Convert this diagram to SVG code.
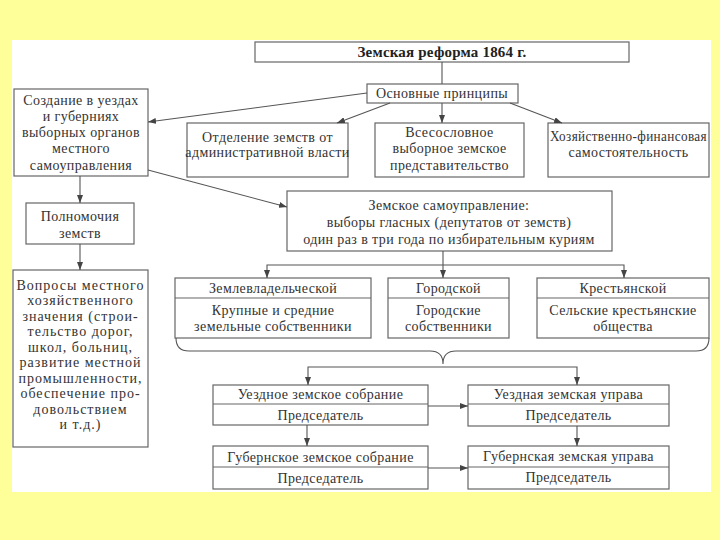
<svg xmlns="http://www.w3.org/2000/svg" width="720" height="540" viewBox="0 0 720 540">
<style>
.box{fill:#fff;stroke:#666;stroke-width:1.2}
.div{stroke:#666;stroke-width:1.2;fill:none}
.t{font-family:"Liberation Serif","DejaVu Serif",serif;font-size:14px;letter-spacing:0.4px;fill:#333;text-anchor:middle}
.b{font-weight:bold;font-size:15px;letter-spacing:0.2px;fill:#222}
.w{letter-spacing:1px}
.c{stroke:#555;stroke-width:1.1;fill:none}
.a{marker-end:url(#ar)}
</style>
<defs>
<marker id="ar" viewBox="0 0 8 6" refX="8" refY="3" markerWidth="8" markerHeight="6" markerUnits="userSpaceOnUse" orient="auto">
<path d="M0,0 L8,3 L0,6 z" fill="#444"/>
</marker>
</defs>
<rect x="0" y="0" width="720" height="540" fill="#FFFF99"/>
<rect x="12" y="40" width="699" height="452" fill="#fff"/>

<g id="title">
<rect class="box" x="255" y="42" width="374" height="20"/>
<text class="t b" x="442" y="57">Земская реформа 1864 г.</text>
</g>
<g id="principles">
<rect class="box" x="367" y="84" width="151" height="19"/>
<text class="t" x="442" y="98">Основные принципы</text>
</g>
<g id="creation">
<rect class="box" x="14" y="89" width="134" height="87"/>
<text class="t" x="81" y="105">Создание в уездах</text>
<text class="t" x="81" y="121">и губерниях</text>
<text class="t" x="81" y="137">выборных органов</text>
<text class="t" x="81" y="153">местного</text>
<text class="t" x="81" y="170">самоуправления</text>
</g>
<g id="separation">
<rect class="box" x="187" y="123" width="161" height="54"/>
<text class="t" x="267.5" y="142">Отделение земств от</text>
<text class="t" x="267.5" y="157">административной власти</text>
</g>
<g id="allestate">
<rect class="box" x="375" y="123" width="149" height="54"/>
<text class="t" x="449.5" y="136.5">Всесословное</text>
<text class="t" x="449.5" y="153">выборное земское</text>
<text class="t" x="449.5" y="169.5">представительство</text>
</g>
<g id="finance">
<rect class="box" x="548" y="123" width="161" height="54"/>
<text class="t" x="628.5" y="140.5" textLength="157" lengthAdjust="spacingAndGlyphs">Хозяйственно-финансовая</text>
<text class="t" x="628.5" y="157">самостоятельность</text>
</g>
<g id="powers">
<rect class="box" x="26" y="203" width="108" height="41"/>
<text class="t" x="80" y="220.5">Полномочия</text>
<text class="t" x="80" y="237.5">земств</text>
</g>
<g id="questions">
<rect class="box" x="13" y="270" width="135" height="177"/>
<text class="t w" x="80.5" y="289.5">Вопросы местного</text>
<text class="t w" x="80.5" y="305">хозяйственного</text>
<text class="t w" x="80.5" y="320.5">значения (строи-</text>
<text class="t w" x="80.5" y="336">тельство дорог,</text>
<text class="t w" x="80.5" y="351.5">школ, больниц,</text>
<text class="t w" x="80.5" y="367">развитие местной</text>
<text class="t w" x="80.5" y="382.5">промышленности,</text>
<text class="t w" x="80.5" y="398">обеспечение про-</text>
<text class="t w" x="80.5" y="413.5">довольствием</text>
<text class="t w" x="80.5" y="429">и т.д.)</text>
</g>
<g id="selfgov">
<rect class="box" x="287" y="191" width="325" height="60"/>
<text class="t" x="449" y="209.5">Земское самоуправление:</text>
<text class="t" x="449" y="226.5">выборы гласных (депутатов от земств)</text>
<text class="t" x="449" y="243.5">один раз в три года по избирательным куриям</text>
</g>
<g id="landowners">
<rect class="box" x="175" y="278" width="196" height="60"/>
<line class="div" x1="175" y1="298" x2="371" y2="298"/>
<text class="t" x="273" y="292.5">Землевладельческой</text>
<text class="t" x="273" y="314.5">Крупные и средние</text>
<text class="t" x="273" y="330.5">земельные собственники</text>
</g>
<g id="urban">
<rect class="box" x="388" y="278" width="121" height="60"/>
<line class="div" x1="388" y1="298" x2="509" y2="298"/>
<text class="t" x="448.5" y="292.5">Городской</text>
<text class="t" x="448.5" y="314.5">Городские</text>
<text class="t" x="448.5" y="330.5">собственники</text>
</g>
<g id="peasant">
<rect class="box" x="537" y="278" width="172" height="60"/>
<line class="div" x1="537" y1="298" x2="709" y2="298"/>
<text class="t" x="623" y="292.5">Крестьянской</text>
<text class="t" x="623" y="314.5">Сельские крестьянские</text>
<text class="t" x="623" y="330.5">общества</text>
</g>
<g id="uezd-assembly">
<rect class="box" x="213" y="385" width="215" height="40"/>
<line class="div" x1="213" y1="404" x2="428" y2="404"/>
<text class="t" x="320.5" y="398.5">Уездное земское собрание</text>
<text class="t" x="320.5" y="419.5">Председатель</text>
</g>
<g id="uezd-board">
<rect class="box" x="468" y="385" width="201" height="41"/>
<line class="div" x1="468" y1="404" x2="669" y2="404"/>
<text class="t" x="568.5" y="398.5">Уездная земская управа</text>
<text class="t" x="568.5" y="420">Председатель</text>
</g>
<g id="gub-assembly">
<rect class="box" x="213" y="446" width="215" height="43"/>
<line class="div" x1="213" y1="467" x2="428" y2="467"/>
<text class="t" x="320.5" y="461.5">Губернское земское собрание</text>
<text class="t" x="320.5" y="482.5">Председатель</text>
</g>
<g id="gub-board">
<rect class="box" x="468" y="446" width="201" height="43"/>
<line class="div" x1="468" y1="467" x2="669" y2="467"/>
<text class="t" x="568.5" y="460.5">Губернская земская управа</text>
<text class="t" x="568.5" y="481.5">Председатель</text>
</g>

<g id="connectors">
<line class="c" x1="442" y1="62" x2="442" y2="84"/>
<line class="c a" x1="367" y1="93" x2="148" y2="122"/>
<line class="c a" x1="390" y1="103" x2="337" y2="123"/>
<line class="c a" x1="442" y1="103" x2="442" y2="123"/>
<line class="c a" x1="510" y1="103" x2="562" y2="123"/>
<line class="c a" x1="148" y1="170" x2="287" y2="207"/>
<line class="c a" x1="80" y1="176" x2="80" y2="203"/>
<line class="c a" x1="80" y1="244" x2="80" y2="270"/>
<line class="c a" x1="443" y1="251" x2="443" y2="278"/>
<polyline class="c a" points="443,265 267,265 267,278"/>
<polyline class="c a" points="443,265 624,265 624,278"/>
<path class="c" d="M176,338 Q176,351 189,351 L430,351 Q443,351 443,364 Q443,351 456,351 L696,351 Q709,351 709,338"/>
<polyline class="c a" points="443,367 308,367 308,385"/>
<polyline class="c a" points="443,367 577,367 577,385"/>
<line class="c a" x1="428" y1="406" x2="468" y2="406"/>
<line class="c a" x1="307" y1="425" x2="307" y2="446"/>
<line class="c a" x1="577" y1="426" x2="577" y2="446"/>
<line class="c a" x1="428" y1="468" x2="468" y2="468"/>
</g>
</svg>
